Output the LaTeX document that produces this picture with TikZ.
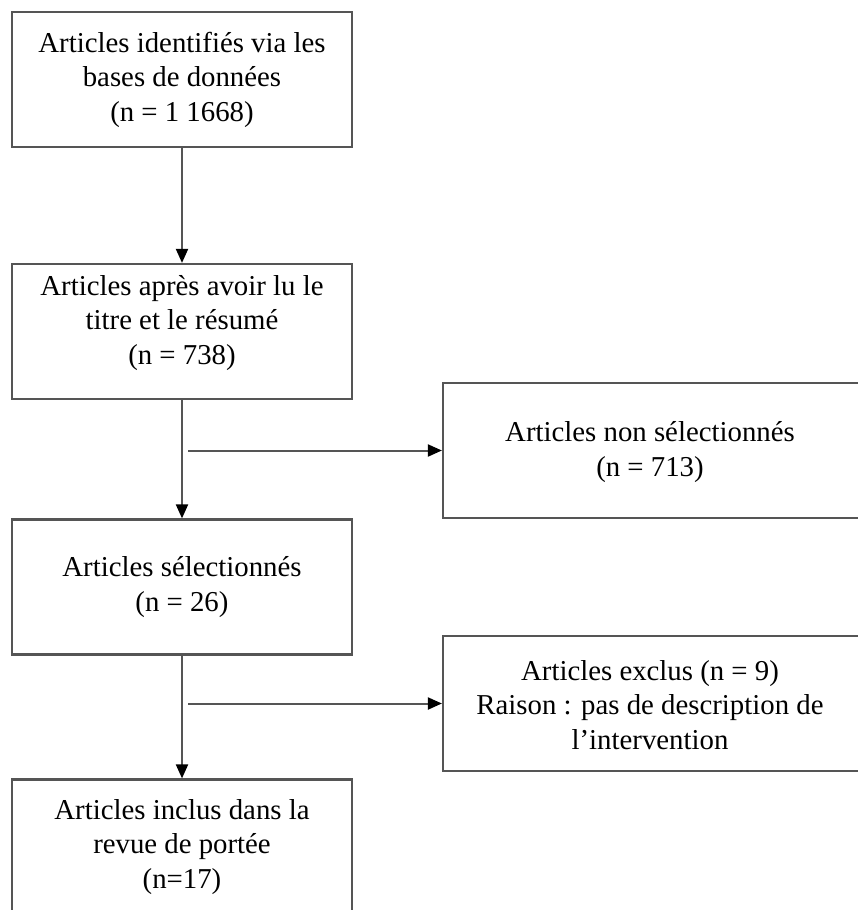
\documentclass[tikz,border=0pt]{standalone}
\usepackage{fontspec}
\setmainfont{Liberation Serif}
\usetikzlibrary{arrows.meta}
\definecolor{frame}{HTML}{555555}
\tikzset{
  txt/.style={align=center, font=\fontsize{28.8}{34.5}\selectfont, inner sep=0pt},
  boxnode/.style={txt, draw=frame, line width=2.2pt, rectangle},
  leftbox/.style={boxnode, minimum width=340pt, minimum height=135pt},
  rightbox/.style={boxnode, minimum width=440pt, minimum height=135pt},
  arr/.style={draw=frame, line width=2pt, -{Triangle[length=14pt,width=12pt,color=black]}}
}
\begin{document}
\begin{tikzpicture}[x=1pt,y=-1pt]
\fill[white] (0,0) rectangle (858,910);
\clip (0,0) rectangle (858,910);
\useasboundingbox (0,0) rectangle (858,910);
\node[leftbox] (b1) at (182,79.5) {Articles identifiés via les\\bases de données\\(n = 1 1668)};
\node[leftbox] (b2) at (182,331.5) {};
\node[txt] (b2t) at (182,323) {Articles après avoir lu le\\titre et le résumé\\(n = 738)};
\node[leftbox] (b3) at (182,587) {Articles sélectionnés\\(n = 26)};
\node[leftbox] (b4) at (182,847) {Articles inclus dans la\\revue de portée\\(n=17)};
\node[rightbox] (r1) at (663,450.5) {};
\node[txt] (r1t) at (650,452) {Articles non sélectionnés\\(n = 713)};
\node[rightbox] (r2) at (663,703.5) {};
\node[txt] (r2t) at (650,705) {Articles exclus (n = 9)\\Raison : pas de description de\\l’intervention};
\coordinate (j1) at (188,450.5);
\coordinate (j2) at (188,703.5);
\draw[arr] (b1.south) -- (b2.north);
\draw[arr] (b2.south) -- (b3.north);
\draw[arr] (b3.south) -- (b4.north);
\draw[arr] (j1) -- (r1.west);
\draw[arr] (j2) -- (r2.west);
\end{tikzpicture}
\end{document}
